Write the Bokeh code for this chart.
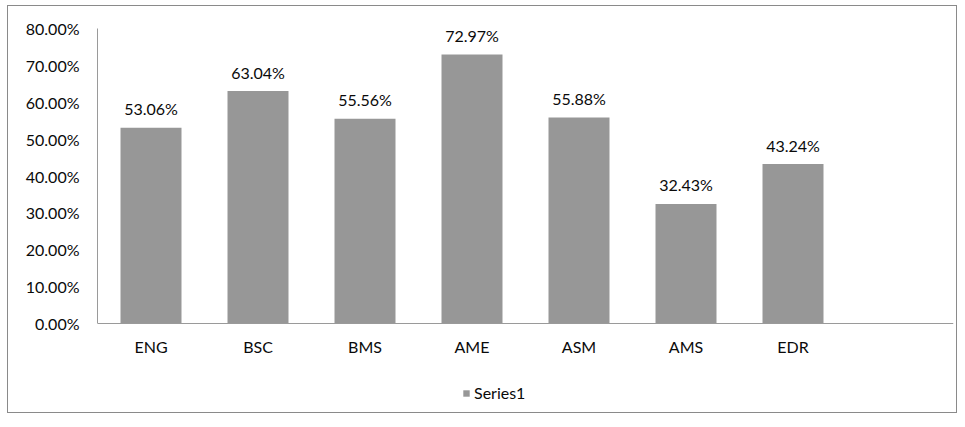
from bokeh.plotting import figure
from bokeh.models import FactorRange, Range1d, NumeralTickFormatter, Legend, LegendItem, FixedTicker
from bokeh.embed import file_html
from bokeh.resources import INLINE
from bokeh.core.properties import value

categories = ["ENG", "BSC", "BMS", "AME", "ASM", "AMS", "EDR"]
values = [0.5306, 0.6304, 0.5556, 0.7297, 0.5588, 0.3243, 0.4324]
y_ticks = [0.0, 0.1, 0.2, 0.3, 0.4, 0.5, 0.6, 0.7, 0.8]
series_name = "Series1"

labels = [f"{v * 100:.2f}%" for v in values]
FONT = "Lato"
FS = "16px"
TXT = "#0a0a0a"

p = figure(
    width=950, height=408,
    x_range=FactorRange(factors=categories + [" "]),
    y_range=Range1d(-0.244, 0.8),
    output_backend="svg", toolbar_location=None,
    min_border_left=89, min_border_right=5, min_border_top=22, min_border_bottom=1,
)
p.styles = {"border": "1px solid #8a8a8a", "margin-left": "7px", "margin-top": "5px"}
p.outline_line_color = None
p.xgrid.grid_line_color = None
p.ygrid.grid_line_color = None

bars = p.vbar(x=categories, top=values, width=0.57, fill_color="#979797", line_color=None)
p.text(x=categories, y=values, text=labels, text_align="center", text_baseline="middle",
       y_offset=-19, text_font=value(FONT), text_font_size=FS, text_color=TXT)

p.yaxis.ticker = FixedTicker(ticks=y_ticks)
p.yaxis.bounds = (0, 0.8)
p.yaxis.formatter = NumeralTickFormatter(format="0.00%")
p.yaxis.major_tick_out = 0
p.yaxis.major_tick_in = 0
p.yaxis.minor_tick_out = 0
p.yaxis.major_tick_line_color = None
p.yaxis.minor_tick_line_color = None
p.yaxis.axis_line_color = "#9a9a9a"
p.yaxis.major_label_standoff = 18
p.yaxis.major_label_text_font = FONT
p.yaxis.major_label_text_font_size = FS
p.yaxis.major_label_text_color = TXT

p.xaxis.fixed_location = 0
p.xaxis.major_tick_out = 0
p.xaxis.major_tick_in = 0
p.xaxis.major_tick_line_color = None
p.xaxis.axis_line_color = "#9a9a9a"
p.xaxis.major_label_standoff = 13
p.xaxis.major_label_text_font = FONT
p.xaxis.major_label_text_font_size = FS
p.xaxis.major_label_text_color = TXT

legend = Legend(items=[LegendItem(label=series_name, renderers=[bars])],
                location=(365, 11), orientation="horizontal",
                border_line_color=None, background_fill_alpha=0,
                glyph_width=8, glyph_height=8, label_standoff=4, padding=2, margin=0,
                label_text_font=FONT, label_text_font_size=FS, label_text_color=TXT)
p.add_layout(legend, "center")

open("out.html", "w").write(file_html(p, INLINE))
